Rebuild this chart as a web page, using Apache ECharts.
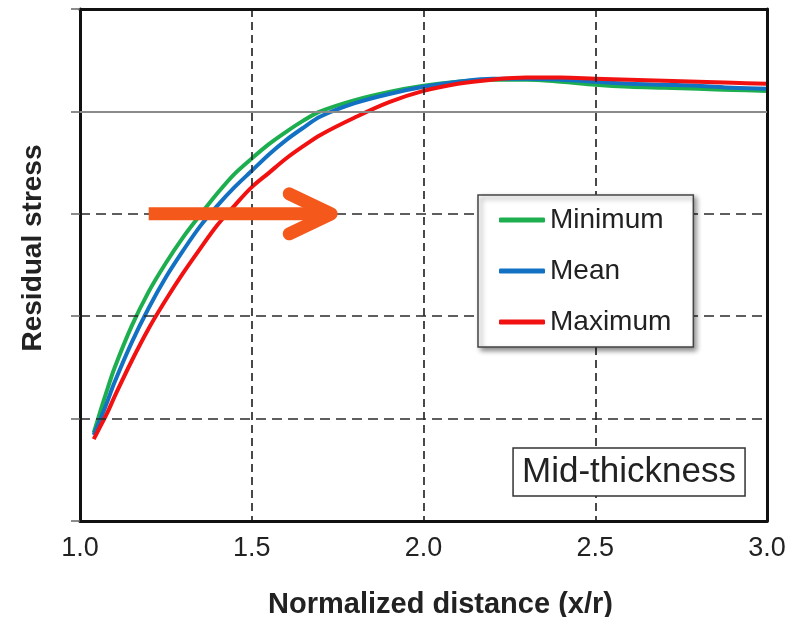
<!DOCTYPE html>
<html>
<head>
<meta charset="utf-8">
<script src="https://cdn.jsdelivr.net/npm/echarts@6/dist/echarts.min.js"></script>
<style>
  html, body { margin: 0; padding: 0; background: #fff; }
  #chart { width: 810px; height: 617px; }
</style>
</head>
<body>
<div id="chart"></div>
<script>
// Normalized distance from the hole edge (x/r)
const xValues = [1.04, 1.06, 1.08, 1.10, 1.15, 1.20, 1.25, 1.30, 1.35, 1.40, 1.45, 1.50, 1.55, 1.60, 1.65,
                 1.70, 1.80, 1.90, 2.00, 2.10, 2.20, 2.30, 2.40, 2.50, 2.60, 2.70, 2.80, 2.90, 3.00];

// Residual stress profiles at mid-thickness (arbitrary units, 5 grid divisions)
const minimumStress = [0.86, 1.08, 1.29, 1.49, 1.90, 2.24, 2.52, 2.77, 2.99, 3.20, 3.39, 3.54, 3.68, 3.80, 3.91,
                       4.00, 4.11, 4.19, 4.25, 4.29, 4.31, 4.31, 4.29, 4.26, 4.24, 4.23, 4.22, 4.21, 4.20];
const meanStress    = [0.84, 1.00, 1.17, 1.35, 1.74, 2.08, 2.38, 2.64, 2.88, 3.08, 3.26, 3.42, 3.58, 3.72, 3.84,
                       3.95, 4.08, 4.17, 4.24, 4.29, 4.32, 4.32, 4.31, 4.29, 4.27, 4.26, 4.25, 4.23, 4.22];
const maximumStress = [0.80, 0.93, 1.06, 1.21, 1.56, 1.88, 2.16, 2.42, 2.66, 2.89, 3.08, 3.26, 3.40, 3.54, 3.66,
                       3.77, 3.94, 4.09, 4.20, 4.27, 4.31, 4.33, 4.33, 4.32, 4.31, 4.30, 4.29, 4.28, 4.27];

const seriesNames  = ['Minimum', 'Mean', 'Maximum'];
const seriesColors = ['#1DAE4F', '#1271C2', '#F21111'];

// Axis ticks
const xTickValues = [1.0, 1.5, 2.0, 2.5, 3.0];
const yTickValues = [0, 1, 2, 3, 4, 5];
const solidGridValue = 4;

// Annotation arrow (data coordinates)
const arrowFrom = [1.2, 3.0];
const arrowTo   = [1.74, 3.0];

const FONT = "'Liberation Sans', Arial, Helvetica, sans-serif";
const chart = echarts.init(document.getElementById('chart'), null, { renderer: 'canvas' });

const toPairs = ys => xValues.map((x, i) => [x, ys[i]]);
const seriesData = [minimumStress, meanStress, maximumStress];

const lineSeries = seriesNames.map((name, i) => ({
  name: name,
  type: 'line',
  data: toPairs(seriesData[i]),
  smooth: 0.35,
  showSymbol: false,
  symbol: 'none',
  lineStyle: { color: seriesColors[i], width: 4 },
  itemStyle: { color: seriesColors[i] },
  z: 3
}));

const option = {
  animation: false,
  backgroundColor: '#fff',
  grid: { left: 80, right: 43, top: 9, bottom: 96, containLabel: false, outerBoundsMode: 'none' },
  title: {
    text: 'Mid-thickness',
    right: 65,
    top: 448,
    padding: [4, 9, 4, 9],
    backgroundColor: '#fff',
    borderColor: '#333',
    borderWidth: 1.5,
    textStyle: { fontFamily: FONT, fontSize: 35, fontWeight: 'normal', color: '#222', lineHeight: 40 },
    z: 6
  },
  legend: {
    data: seriesNames,
    orient: 'vertical',
    left: 478,
    top: 195,
    padding: [10, 22, 10, 21],
    itemGap: 21,
    itemWidth: 46,
    itemHeight: 5,
    icon: 'roundRect',
    backgroundColor: '#fff',
    borderColor: '#444',
    borderWidth: 1.5,
    shadowColor: 'rgba(0,0,0,0.45)',
    shadowBlur: 5,
    shadowOffsetX: 3,
    shadowOffsetY: 3,
    textStyle: { fontFamily: FONT, fontSize: 28, color: '#222', lineHeight: 30 },
    selectedMode: false,
    z: 6
  },
  xAxis: [
    {
      type: 'value', min: 1, max: 3, interval: 0.5, position: 'bottom',
      axisLine: { show: true, onZero: false, lineStyle: { color: '#111', width: 3 } },
      axisTick: { show: false },
      axisLabel: {
        margin: 14, fontSize: 27, color: '#222', fontFamily: FONT,
        formatter: v => xTickValues.find(t => Math.abs(t - v) < 1e-9).toFixed(1)
      },
      splitLine: { show: true, lineStyle: { color: '#2a2a2a', width: 1.7, type: [8, 5] } },
      name: 'Normalized distance (x/r)', nameLocation: 'middle', nameGap: 69,
      nameTextStyle: { fontFamily: FONT, fontSize: 29, fontWeight: 'bold', color: '#222', padding: [0, 0, 0, 34] },
      z: 4
    },
    {
      type: 'value', min: 1, max: 3, position: 'top',
      axisLine: { show: true, onZero: false, lineStyle: { color: '#111', width: 3 } },
      axisTick: { show: false }, axisLabel: { show: false }, splitLine: { show: false },
      z: 4
    }
  ],
  yAxis: [
    {
      type: 'value', min: yTickValues[0], max: yTickValues[yTickValues.length - 1], interval: 1, position: 'left',
      axisLine: { show: true, onZero: false, lineStyle: { color: '#111', width: 3 } },
      axisTick: { show: true, length: 9, lineStyle: { color: '#666', width: 1.5 } },
      axisLabel: { show: false },
      splitLine: { show: true, lineStyle: { color: '#2a2a2a', width: 1.7, type: [10, 6] } },
      name: 'Residual stress', nameLocation: 'middle', nameGap: 33,
      nameTextStyle: { fontFamily: FONT, fontSize: 28, fontWeight: 'bold', color: '#222', padding: [0, 0, 0, 34] },
      z: 4
    },
    {
      type: 'value', min: 0, max: 5, position: 'right',
      axisLine: { show: true, onZero: false, lineStyle: { color: '#111', width: 3 } },
      axisTick: { show: false }, axisLabel: { show: false }, splitLine: { show: false },
      z: 4
    }
  ],
  series: [
    {
      name: 'grid-reference',
      type: 'line',
      data: [],
      silent: true,
      z: 1,
      markLine: {
        silent: true,
        symbol: 'none',
        label: { show: false },
        lineStyle: { color: '#8a8a8a', width: 2, type: 'solid' },
        data: [{ yAxis: solidGridValue }]
      }
    }
  ].concat(lineSeries)
};

chart.setOption(option);

// Orange arrow annotation
const tail = chart.convertToPixel({ xAxisIndex: 0, yAxisIndex: 0 }, arrowFrom);
const tip = chart.convertToPixel({ xAxisIndex: 0, yAxisIndex: 0 }, arrowTo);
const arrowColor = '#F4581A';
chart.setOption({
  graphic: [
    {
      type: 'line', z: 10,
      shape: { x1: tail[0], y1: tail[1], x2: tip[0] - 6, y2: tip[1] },
      style: { stroke: arrowColor, lineWidth: 13, lineCap: 'butt' }
    },
    {
      type: 'polyline', z: 10,
      shape: { points: [[tip[0] - 45, tip[1] - 20], [tip[0] - 3, tip[1]], [tip[0] - 45, tip[1] + 20]] },
      style: { stroke: arrowColor, lineWidth: 13, lineCap: 'round', lineJoin: 'round', fill: null }
    }
  ]
});
</script>
</body>
</html>
